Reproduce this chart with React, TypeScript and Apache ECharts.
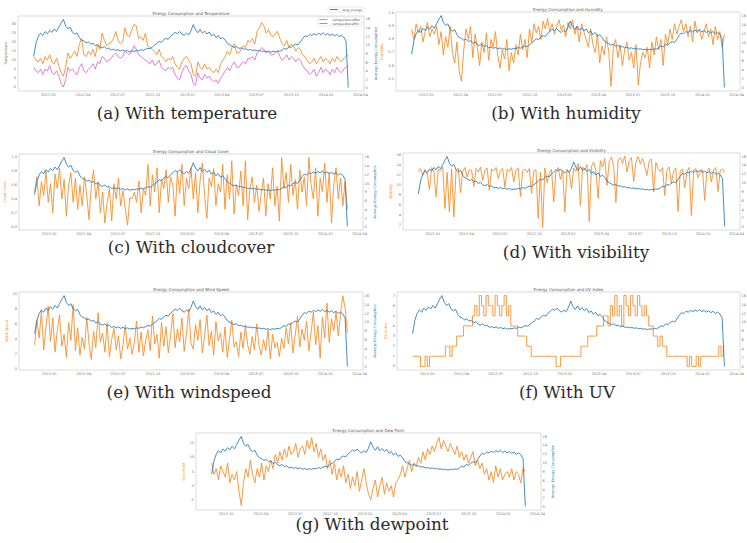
import React, { useEffect, useRef } from "react";
import * as echarts from "echarts";

// ---- data: one sample every 6 days, 2011-11-23 .. 2014-02-28 ----
const START_UTC = Date.UTC(2011, 10, 23);
const STEP_DAYS = 6;

const X_TICK_LABELS = ["2012-01", "2012-04", "2012-07", "2012-10", "2013-01", "2013-04", "2013-07", "2013-10", "2014-01", "2014-04"];

const ENERGY = [
  7.5, 10.5, 12.0, 12.8, 12.3, 13.2, 12.7, 13.5, 13.0, 13.8,
  13.2, 14.2, 15.2, 16.0, 14.5, 13.8, 14.2, 13.0, 12.6, 12.9,
  11.8, 11.2, 11.0, 10.6, 10.8, 10.3, 10.5, 9.9, 10.2, 9.6,
  9.4, 9.7, 9.2, 9.4, 8.9, 9.1, 8.8, 9.0, 8.7, 8.9,
  8.6, 8.8, 8.5, 8.7, 8.6, 8.8, 8.7, 9.0, 8.8, 9.1,
  9.3, 9.2, 9.6, 10.0, 10.4, 10.9, 10.7, 11.3, 11.6, 11.4,
  12.1, 12.5, 13.0, 12.7, 13.2, 12.6, 12.3, 12.8, 12.4, 13.4,
  14.8, 13.6, 12.9, 13.7, 12.8, 13.3, 12.6, 13.1, 12.2, 12.6,
  11.8, 12.3, 11.5, 11.8, 11.2, 10.4, 10.1, 9.8, 9.5, 9.7,
  9.3, 9.4, 9.1, 9.2, 8.9, 9.0, 8.8, 8.9, 8.7, 8.8,
  8.6, 8.7, 8.5, 8.6, 8.4, 8.6, 8.5, 8.7, 8.6, 8.9,
  9.3, 9.1, 9.7, 9.5, 10.0, 10.3, 10.1, 10.8, 11.6, 12.2,
  12.0, 12.5, 12.3, 12.7, 12.4, 12.8, 12.5, 12.9, 12.4, 12.7,
  12.3, 12.6, 12.2, 12.5, 12.0, 12.3, 11.9, 11.0, 0.2,
];

const TEMP_MAX = [
  12, 10, 9, 11, 8, 12, 10, 13, 9, 8,
  11, 7, 3, 1, 6, 14, 11, 13, 15, 12,
  19, 22, 13, 12, 15, 13, 16, 12, 19, 16,
  25, 21, 18, 19, 20, 22, 26, 21, 19, 20,
  28, 24, 23, 27, 30, 29, 22, 23, 21, 25,
  18, 17, 16, 15, 13, 16, 12, 11, 9, 11,
  10, 12, 8, 6, 5, 9, 11, 12, 10, 8,
  2, 1, 9, 6, 5, 8, 5, 6, 4, 3,
  5, 3, 8, 10, 12, 15, 13, 17, 19, 14,
  14, 16, 18, 17, 21, 20, 22, 19, 26, 28,
  31, 29, 25, 27, 24, 23, 25, 26, 22, 19,
  18, 21, 17, 19, 18, 15, 17, 16, 13, 12,
  10, 8, 9, 11, 8, 10, 12, 9, 11, 10,
  8, 11, 9, 12, 10, 9, 11, 12, 13,
];

const TEMP_MIN = [
  6, 4, 3, 5, 2, 5, 4, 7, 3, 2,
  4, 1, -3, -5, -1, 6, 4, 5, 3, 2,
  6, 8, 4, 3, 5, 6, 8, 5, 9, 8,
  12, 11, 9, 10, 11, 13, 14, 12, 11, 12,
  15, 14, 13, 15, 18, 16, 13, 12, 11, 10,
  9, 8, 10, 7, 8, 10, 6, 5, 4, 6,
  5, 6, 2, 0, -1, 3, 6, 7, 4, 2,
  -3, -4, 3, 0, -1, 2, 0, 1, -1, -2,
  -1, -3, 0, 2, 4, 6, 4, 7, 9, 6,
  6, 8, 9, 8, 11, 11, 12, 10, 14, 15,
  17, 16, 14, 15, 13, 13, 14, 15, 12, 10,
  11, 13, 10, 12, 11, 9, 11, 10, 7, 5,
  4, 2, 3, 5, 1, 3, 6, 3, 5, 4,
  2, 5, 3, 6, 4, 3, 5, 6, 7,
];

const HUMIDITY = [
  0.88, 0.80, 0.92, 0.85, 0.90, 0.78, 0.86, 0.93, 0.82, 0.88,
  0.84, 0.90, 0.76, 0.86, 0.68, 0.82, 0.74, 0.90, 0.70, 0.62,
  0.78, 0.55, 0.48, 0.72, 0.88, 0.80, 0.90, 0.66, 0.84, 0.74,
  0.60, 0.78, 0.70, 0.85, 0.64, 0.80, 0.74, 0.86, 0.68, 0.58,
  0.72, 0.65, 0.80, 0.56, 0.70, 0.62, 0.76, 0.68, 0.84, 0.72,
  0.80, 0.66, 0.88, 0.78, 0.92, 0.85, 0.90, 0.80, 0.94, 0.88,
  0.96, 0.86, 0.92, 0.84, 0.90, 0.95, 0.87, 0.91, 0.82, 0.93,
  0.88, 0.95, 0.84, 0.90, 0.78, 0.92, 0.86, 0.80, 0.74, 0.88,
  0.76, 0.70, 0.84, 0.62, 0.75, 0.68, 0.82, 0.70, 0.44, 0.74,
  0.80, 0.66, 0.76, 0.60, 0.72, 0.78, 0.64, 0.70, 0.58, 0.76,
  0.45, 0.62, 0.70, 0.66, 0.74, 0.58, 0.78, 0.68, 0.82, 0.72,
  0.80, 0.60, 0.84, 0.76, 0.88, 0.80, 0.92, 0.84, 0.90, 0.95,
  0.86, 0.92, 0.82, 0.90, 0.78, 0.94, 0.85, 0.88, 0.80, 0.86,
  0.92, 0.82, 0.88, 0.76, 0.90, 0.80, 0.86, 0.74, 0.84,
];

const CLOUDCOVER = [
  0.5, 0.72, 0.3, 0.65, 0.45, 0.8, 0.35, 0.62, 0.2, 0.76,
  0.55, 0.85, 0.4, 0.68, 0.15, 0.6, 0.78, 0.35, 0.7, 0.25,
  0.6, 0.3, 0.72, 0.45, 0.1, 0.58, 0.82, 0.4, 0.65, 0.2,
  0.5, 0.05, 0.35, 0.55, 0.08, 0.62, 0.4, 0.7, 0.3, 0.52,
  0.25, 0.02, 0.42, 0.4, 0.5, 0.35, 0.66, 0.2, 0.55, 0.45,
  0.9, 0.3, 0.75, 0.5, 0.85, 0.2, 0.68, 0.55, 0.82, 0.35,
  0.72, 0.6, 0.15, 0.8, 0.48, 0.9, 0.3, 0.7, 0.55, 0.85,
  0.4, 0.78, 0.2, 0.66, 0.92, 0.45, 0.12, 0.7, 0.58, 0.84,
  0.3, 0.62, 0.5, 0.9, 0.25, 0.75, 0.4, 0.95, 0.18, 0.6,
  0.45, 0.8, 0.3, 0.95, 0.1, 0.55, 0.72, 0.35, 0.6, 0.22,
  0.48, 0.7, 0.15, 0.62, 0.4, 0.85, 0.3, 0.58, 0.08, 1.0,
  0.55, 0.78, 0.35, 0.9, 0.45, 0.68, 0.25, 0.82, 0.5, 0.72,
  0.3, 1.0, 0.6, 0.4, 0.85, 0.15, 0.7, 0.5, 0.92, 0.35,
  0.78, 0.05, 0.6, 0.85, 0.4, 0.7, 0.3, 0.65, 0.25,
];

const VISIBILITY = [
  12.5, 13.2, 11.8, 13.0, 12.2, 9.0, 13.4, 12.6, 7.5, 13.0,
  12.8, 13.5, 5.2, 12.4, 4.5, 13.1, 3.5, 12.9, 13.3, 8.4,
  12.6, 13.4, 11.5, 13.0, 12.8, 9.6, 13.2, 12.5, 13.5, 10.8,
  12.9, 13.3, 8.8, 13.1, 12.7, 13.4, 11.2, 12.8, 13.2, 9.5,
  13.0, 12.6, 13.4, 10.5, 12.9, 13.3, 7.6, 12.8, 13.1, 12.4,
  13.2, 8.2, 12.7, 13.0, 3.2, 12.5, 1.4, 13.3, 10.4, 12.2,
  13.0, 6.5, 12.6, 13.4, 11.0, 12.8, 4.5, 13.1, 12.4, 9.2,
  13.3, 12.6, 14.2, 5.8, 13.5, 12.9, 14.0, 2.6, 13.6, 14.5,
  12.8, 7.2, 14.8, 13.5, 15.2, 9.8, 14.6, 15.5, 13.8, 6.4,
  14.9, 15.3, 14.2, 15.7, 12.5, 14.8, 15.4, 10.6, 14.5, 15.6,
  14.1, 15.2, 13.6, 11.8, 14.7, 15.1, 8.5, 14.4, 13.2, 12.6,
  13.4, 7.8, 12.9, 13.5, 10.2, 12.7, 13.3, 4.6, 12.8, 13.1,
  9.4, 12.6, 13.4, 3.8, 12.9, 13.2, 11.4, 12.5, 13.0, 6.8,
  12.7, 13.3, 10.5, 12.9, 13.4, 8.6, 12.8, 13.1, 12.4,
];

const WINDSPEED = [
  3.2, 6.5, 4.1, 7.8, 2.5, 5.6, 8.4, 3.6, 6.8, 2.2,
  5.1, 7.2, 3.0, 4.6, 1.5, 6.2, 3.8, 8.6, 2.4, 5.5,
  1.8, 4.2, 2.6, 6.9, 3.4, 1.2, 5.0, 2.8, 7.5, 3.6,
  4.8, 2.2, 6.1, 1.6, 3.9, 5.4, 2.5, 4.4, 1.3, 3.2,
  5.8, 2.6, 4.1, 1.9, 3.5, 6.4, 2.2, 4.9, 1.7, 3.8,
  5.2, 2.4, 7.1, 3.3, 4.6, 1.4, 6.2, 3.0, 5.6, 2.1,
  4.5, 7.4, 2.8, 5.3, 3.6, 6.8, 2.3, 4.7, 8.0, 3.4,
  2.6, 5.9, 3.8, 6.6, 2.1, 4.4, 7.2, 3.1, 5.0, 1.8,
  6.3, 3.7, 4.8, 2.2, 5.6, 1.5, 4.0, 6.5, 2.9, 3.6,
  1.6, 4.9, 2.7, 5.8, 3.2, 1.9, 4.3, 2.5, 6.0, 3.1,
  1.8, 3.9, 2.4, 5.2, 1.3, 4.6, 2.8, 3.5, 1.6, 4.1,
  2.7, 5.5, 3.3, 6.2, 2.1, 4.5, 7.0, 2.9, 5.3, 3.8,
  6.4, 2.4, 4.9, 7.6, 3.2, 5.8, 1.4, 6.9, 4.1, 8.8,
  3.5, 6.7, 5.1, 7.6, 4.4, 7.3, 9.8, 8.2, 4.8,
];

const UV_INDEX = [
  1, 1, 1, 1, 0, 0, 1, 0, 1, 1,
  1, 1, 1, 1, 1, 2, 2, 1, 2, 2,
  3, 3, 3, 4, 4, 4, 4, 5, 6, 5,
  7, 6, 5, 7, 6, 6, 5, 7, 6, 5,
  6, 7, 5, 6, 4, 4, 4, 3, 3, 3,
  3, 2, 2, 1, 1, 1, 1, 1, 1, 1,
  1, 1, 1, 1, 0, 0, 1, 1, 1, 1,
  1, 1, 1, 1, 1, 2, 2, 2, 3, 3,
  3, 3, 4, 4, 4, 5, 5, 4, 6, 5,
  7, 5, 6, 4, 7, 6, 5, 7, 6, 5,
  7, 6, 5, 6, 5, 4, 4, 3, 3, 2,
  3, 2, 2, 1, 1, 1, 1, 1, 1, 1,
  1, 1, 0, 1, 0, 0, 1, 0, 1, 1,
  1, 1, 1, 1, 1, 1, 2, 1, 2,
];

const DEWPOINT = [
  8, 4, 6, 2, 7, 5, 3, 8, 1, 4,
  2, 5, -2, -7, 1, 6, 3, 9, 4, 1,
  6, 3, 8, 2, 7, 5, 9, 6, 11, 8,
  12, 9, 13, 10, 14, 11, 12, 15, 10, 13,
  14, 11, 16, 13, 17, 12, 15, 10, 13, 9,
  11, 6, 9, 4, 8, 2, 6, 3, 7, 1,
  4, -1, 3, 0, 5, -2, 2, 6, 1, -3,
  -5, -1, 2, -4, 0, 3, -3, 1, -2, 0,
  -4, 1, 2, 4, 7, 3, 6, 9, 5, 8,
  7, 10, 8, 12, 9, 13, 11, 14, 12, 15,
  17, 13, 16, 14, 12, 15, 13, 11, 14, 10,
  12, 9, 11, 8, 10, 12, 7, 9, 6, 8,
  4, 6, 2, 5, 1, 7, 3, 6, 2, 4,
  5, 3, 6, 2, 5, 4, 1, 6, 5,
];

const ENERGY_TICKS = [0, 2, 4, 6, 8, 10, 12, 14, 16];
const TEMP_TICKS = [-5, 0, 5, 10, 15, 20, 25, 30];
const HUMIDITY_TICKS = [0.5, 0.6, 0.7, 0.8, 0.9, 1.0];
const CLOUD_TICKS = [0, 0.2, 0.4, 0.6, 0.8, 1.0];
const VIS_TICKS = [2, 4, 6, 8, 10, 12, 14, 16];
const WIND_TICKS = [0, 2, 4, 6, 8, 10];
const UV_TICKS = [0, 1, 2, 3, 4, 5, 6, 7];
const DEW_TICKS = [-5, 0, 5, 10, 15];

// ---- styling / layout ----
const BLUE = "#2f7fbd";
const ORANGE = "#f98d2a";
const PINK = "#dc6fd5";
const LABEL = "#7a7a7a";
const FRAME = "#cccccc";
const W = 747;
const H = 543;

type LineDef = { name: string; data: number[]; color: string; step?: boolean };
type Panel = {
  grid: [number, number, number, number];
  yMin: number;
  yMax: number;
  ticks: number[];
  dec: number;
  yName: string;
  yNameColor: string;
  rightName: boolean;
  title: string;
  caption: string;
  cap: [number, number];
  lines: LineDef[];
};

const PANELS: Panel[] = [
  {
    grid: [18, 16, 346, 75], yMin: -7.2, yMax: 34.6, ticks: TEMP_TICKS, dec: 0,
    yName: "Temperature", yNameColor: LABEL, rightName: true, title: "Energy Consumption and Temperature",
    caption: "(a) With temperature", cap: [187, 113],
    lines: [
      { name: "temperatureMax", data: TEMP_MAX, color: ORANGE },
      { name: "temperatureMin", data: TEMP_MIN, color: PINK },
    ],
  },
  {
    grid: [396, 12, 344, 79], yMin: 0.405, yMax: 1.01, ticks: HUMIDITY_TICKS, dec: 1,
    yName: "Humidity", yNameColor: ORANGE, rightName: false, title: "Energy Consumption and Humidity",
    caption: "(b) With humidity", cap: [566, 113],
    lines: [{ name: "humidity", data: HUMIDITY, color: ORANGE }],
  },
  {
    grid: [19, 154, 344, 76], yMin: -0.05, yMax: 1.05, ticks: CLOUD_TICKS, dec: 1,
    yName: "Cloud Cover", yNameColor: ORANGE, rightName: true, title: "Energy Consumption and Cloud Cover",
    caption: "(c) With cloudcover", cap: [191, 247],
    lines: [{ name: "cloudCover", data: CLOUDCOVER, color: ORANGE }],
  },
  {
    grid: [403, 153, 337, 77], yMin: 0.9, yMax: 16.3, ticks: VIS_TICKS, dec: 0,
    yName: "Visibility", yNameColor: ORANGE, rightName: false, title: "Energy Consumption and Visibility",
    caption: "(d) With visibility", cap: [576, 252],
    lines: [{ name: "visibility", data: VISIBILITY, color: ORANGE }],
  },
  {
    grid: [19, 292, 344, 78], yMin: -0.2, yMax: 10.3, ticks: WIND_TICKS, dec: 0,
    yName: "Wind Speed", yNameColor: ORANGE, rightName: true, title: "Energy Consumption and Wind Speed",
    caption: "(e) With windspeed", cap: [189, 392],
    lines: [{ name: "windSpeed", data: WINDSPEED, color: ORANGE }],
  },
  {
    grid: [397, 292, 343, 78], yMin: -0.35, yMax: 7.35, ticks: UV_TICKS, dec: 0,
    yName: "UV Index", yNameColor: ORANGE, rightName: false, title: "Energy Consumption and UV Index",
    caption: "(f) With UV", cap: [567, 392],
    lines: [{ name: "uvIndex", data: UV_INDEX, color: ORANGE, step: true }],
  },
  {
    grid: [196, 433, 345, 77], yMin: -8.6, yMax: 18.6, ticks: DEW_TICKS, dec: 0,
    yName: "Dew Point", yNameColor: ORANGE, rightName: true, title: "Energy Consumption and Dew Point",
    caption: "(g) With dewpoint", cap: [372, 524],
    lines: [{ name: "dewPoint", data: DEWPOINT, color: ORANGE }],
  },
];

const DAY_MS = 86400000;
const XS = ENERGY.map((_, i) => START_UTC + i * STEP_DAYS * DAY_MS);
const SPAN = XS[XS.length - 1] - XS[0];
const X_MIN = XS[0] - 0.05 * SPAN;
const X_MAX = XS[XS.length - 1] + 0.05 * SPAN;
const X_TICK_VALUES = X_TICK_LABELS.map((s) => {
  const [y, m] = s.split("-").map(Number);
  return Date.UTC(y, m - 1, 1);
});
const pairs = (arr: number[]) => arr.map((v, i) => [XS[i], v]);
const fmtMonth = (v: number) => {
  const idx = X_TICK_VALUES.findIndex((t) => Math.abs(t - v) < DAY_MS);
  return idx >= 0 ? X_TICK_LABELS[idx] : "";
};

const SMALL = 3.6;
const SANS = "DejaVu Sans";

function buildOption() {
  const grid: any[] = [];
  const xAxis: any[] = [];
  const yAxis: any[] = [];
  const series: any[] = [];
  const graphic: any[] = [];

  PANELS.forEach((p, k) => {
    const [l, t, w, h] = p.grid;
    grid.push({
      left: l, top: t, width: w, height: h, show: true, borderColor: FRAME, borderWidth: 0.7,
      backgroundColor: "transparent", containLabel: false, outerBoundsMode: "none",
    });
    xAxis.push({
      type: "value", gridIndex: k, min: X_MIN, max: X_MAX,
      axisLine: { show: false }, axisTick: { show: false }, splitLine: { show: false },
      axisLabel: { customValues: X_TICK_VALUES, formatter: fmtMonth, fontSize: SMALL, color: LABEL, margin: 1.5, fontFamily: SANS },
    });
    yAxis.push({
      type: "value", gridIndex: k, position: "left", min: p.yMin, max: p.yMax,
      axisLine: { show: false }, axisTick: { show: false }, splitLine: { show: false },
      axisLabel: { customValues: p.ticks, formatter: (v: number) => v.toFixed(p.dec), fontSize: SMALL, color: LABEL, margin: 2, fontFamily: SANS },
      name: p.yName, nameLocation: "middle", nameGap: 9,
      nameTextStyle: { fontSize: SMALL, color: p.yNameColor, fontFamily: SANS },
    });
    yAxis.push({
      type: "value", gridIndex: k, position: "right", min: -0.6, max: 16.8,
      axisLine: { show: false }, axisTick: { show: false }, splitLine: { show: false },
      axisLabel: { customValues: ENERGY_TICKS, formatter: (v: number) => String(v), fontSize: SMALL, color: LABEL, margin: 1.5, fontFamily: SANS },
      name: p.rightName ? "Average Energy Consumption" : "", nameLocation: "middle", nameGap: 8,
      nameTextStyle: { fontSize: SMALL, color: BLUE, fontFamily: SANS },
    });
    p.lines.forEach((ln) => {
      series.push({
        type: "line", name: ln.name, xAxisIndex: k, yAxisIndex: 2 * k,
        data: pairs(ln.data), symbol: "none", showSymbol: false, silent: true,
        step: ln.step ? "middle" : false,
        lineStyle: { width: 0.9, color: ln.color }, itemStyle: { color: ln.color },
      });
    });
    series.push({
      type: "line", name: "avg_energy", xAxisIndex: k, yAxisIndex: 2 * k + 1,
      data: pairs(ENERGY), symbol: "none", showSymbol: false, silent: true,
      lineStyle: { width: 0.9, color: BLUE }, itemStyle: { color: BLUE }, z: 3,
    });
    graphic.push({
      type: "text", x: l + w / 2, y: t - 3,
      style: { text: p.title, fontSize: 4, fontFamily: SANS, fill: "#555", textAlign: "center", textVerticalAlign: "middle" },
    });
    graphic.push({
      type: "text", x: p.cap[0], y: p.cap[1],
      style: { text: p.caption, fontSize: 16.8, fontFamily: "DejaVu Serif", fill: "#2b2b2b", textAlign: "center", textVerticalAlign: "middle" },
    });
  });

  const legendCommon = {
    icon: "rect", itemWidth: 8, itemHeight: 1, itemGap: 1,
    textStyle: { fontSize: 3.3, color: "#555", fontFamily: SANS },
    borderColor: "#d5d5d5", borderWidth: 0.5, borderRadius: 1, padding: [1, 2],
    backgroundColor: "#fff", selectedMode: false,
  };
  const legendItem = (name: string, color: string) => ({ name, itemStyle: { color }, lineStyle: { color } });

  return {
    animation: false,
    backgroundColor: "#ffffff",
    grid, xAxis, yAxis, series, graphic,
    legend: [
      { ...legendCommon, data: [legendItem("avg_energy", BLUE)], right: W - 364, top: 7 },
      {
        ...legendCommon,
        data: [legendItem("temperatureMax", ORANGE), legendItem("temperatureMin", PINK)],
        orient: "vertical", right: W - 362, top: 17,
      },
    ],
  };
}

export default function App() {
  const ref = useRef<HTMLDivElement>(null);
  useEffect(() => {
    if (!ref.current) return;
    const chart = echarts.init(ref.current, undefined, { renderer: "svg" });
    chart.setOption(buildOption() as any);
    return () => chart.dispose();
  }, []);
  return (
    <div
      ref={ref}
      style={{ position: "absolute", left: 0, top: 0, width: W, height: H, background: "#fff" }}
    />
  );
}
